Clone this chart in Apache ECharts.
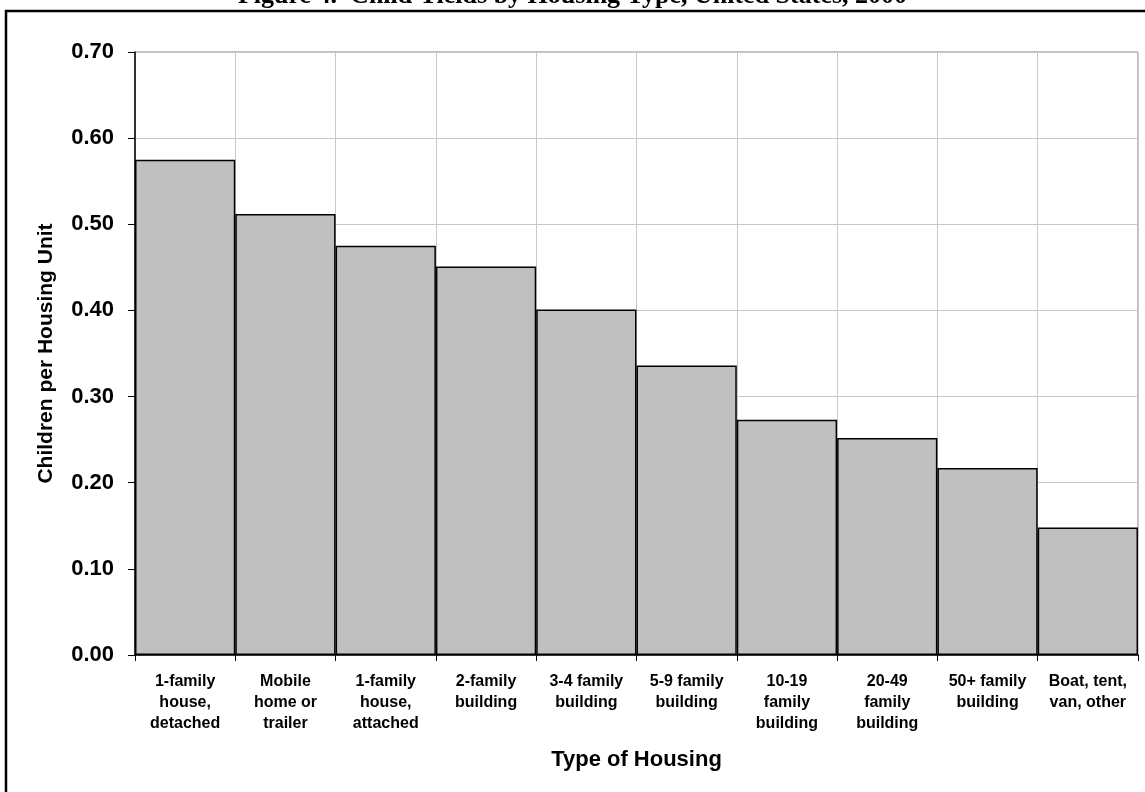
<!DOCTYPE html>
<html>
<head>
<meta charset="utf-8">
<script src="https://cdn.jsdelivr.net/npm/echarts@6/dist/echarts.min.js"></script>
<style>
  html, body { margin: 0; padding: 0; background: #ffffff; }
  #chart { width: 1145px; height: 792px; }
</style>
</head>
<body>
<div id="chart"></div>
<script>
// Housing types along the x axis
const categories = [
  '1-family\nhouse,\ndetached',
  'Mobile\nhome or\ntrailer',
  '1-family\nhouse,\nattached',
  '2-family\nbuilding',
  '3-4 family\nbuilding',
  '5-9 family\nbuilding',
  '10-19\nfamily\nbuilding',
  '20-49\nfamily\nbuilding',
  '50+ family\nbuilding',
  'Boat, tent,\nvan, other'
];

// Children per housing unit, one value per housing type
const childrenPerUnit = [0.575, 0.512, 0.475, 0.451, 0.401, 0.336, 0.273, 0.252, 0.217, 0.148];

// Value axis ticks
const yTicks = [0.00, 0.10, 0.20, 0.30, 0.40, 0.50, 0.60, 0.70];

const chart = echarts.init(document.getElementById('chart'), null, { renderer: 'canvas' });

const option = {
  backgroundColor: '#ffffff',
  animation: false,
  graphic: [
    {
      type: 'text',
      left: 'center',
      top: -17,
      style: {
        text: 'Figure 4.  Child Yields by Housing Type, United States, 2000',
        font: 'bold 26px "Liberation Serif", "Times New Roman", serif',
        fill: '#000000'
      }
    },
    {
      type: 'rect',
      shape: { x: 6, y: 11, width: 1160, height: 800 },
      style: { fill: 'none', stroke: '#000000', lineWidth: 2.5 }
    }
  ],
  grid: {
    left: 135,
    right: 7,
    top: 52,
    bottom: 137,
    show: true,
    borderColor: '#808080',
    borderWidth: 1
  },
  xAxis: {
    type: 'category',
    data: categories,
    boundaryGap: true,
    name: 'Type of Housing',
    nameLocation: 'middle',
    nameGap: 94,
    nameTextStyle: {
      fontFamily: '"Liberation Sans", Arial, sans-serif',
      fontWeight: 'bold',
      fontSize: 22,
      color: '#000000'
    },
    axisLine: { lineStyle: { color: '#000000', width: 1.5 } },
    axisTick: { show: true, length: 6, lineStyle: { color: '#000000' } },
    axisLabel: {
      interval: 0,
      margin: 16,
      fontFamily: '"Liberation Sans", Arial, sans-serif',
      fontWeight: 'bold',
      fontSize: 16,
      lineHeight: 21,
      color: '#000000',
      align: 'center'
    },
    splitLine: { show: true, interval: 0, lineStyle: { color: '#c8c8c8', width: 1 } }
  },
  yAxis: {
    type: 'value',
    min: yTicks[0],
    max: yTicks[yTicks.length - 1],
    interval: 0.1,
    name: 'Children per Housing Unit',
    nameLocation: 'middle',
    nameGap: 78,
    nameRotate: 90,
    nameTextStyle: {
      fontFamily: '"Liberation Sans", Arial, sans-serif',
      fontWeight: 'bold',
      fontSize: 21,
      color: '#000000'
    },
    axisLine: { show: true, lineStyle: { color: '#000000', width: 1.5 } },
    axisTick: { show: true, length: 7, lineStyle: { color: '#000000' } },
    axisLabel: {
      margin: 21,
      fontFamily: '"Liberation Sans", Arial, sans-serif',
      fontWeight: 'bold',
      fontSize: 22,
      color: '#000000',
      formatter: v => v.toFixed(2)
    },
    splitLine: { show: true, lineStyle: { color: '#c8c8c8', width: 1 } }
  },
  series: [
    {
      type: 'bar',
      data: childrenPerUnit,
      barWidth: '100%',
      barCategoryGap: '0%',
      itemStyle: {
        color: '#c0c0c0',
        borderColor: '#000000',
        borderWidth: 1.5
      }
    }
  ]
};

chart.setOption(option);
</script>
</body>
</html>
